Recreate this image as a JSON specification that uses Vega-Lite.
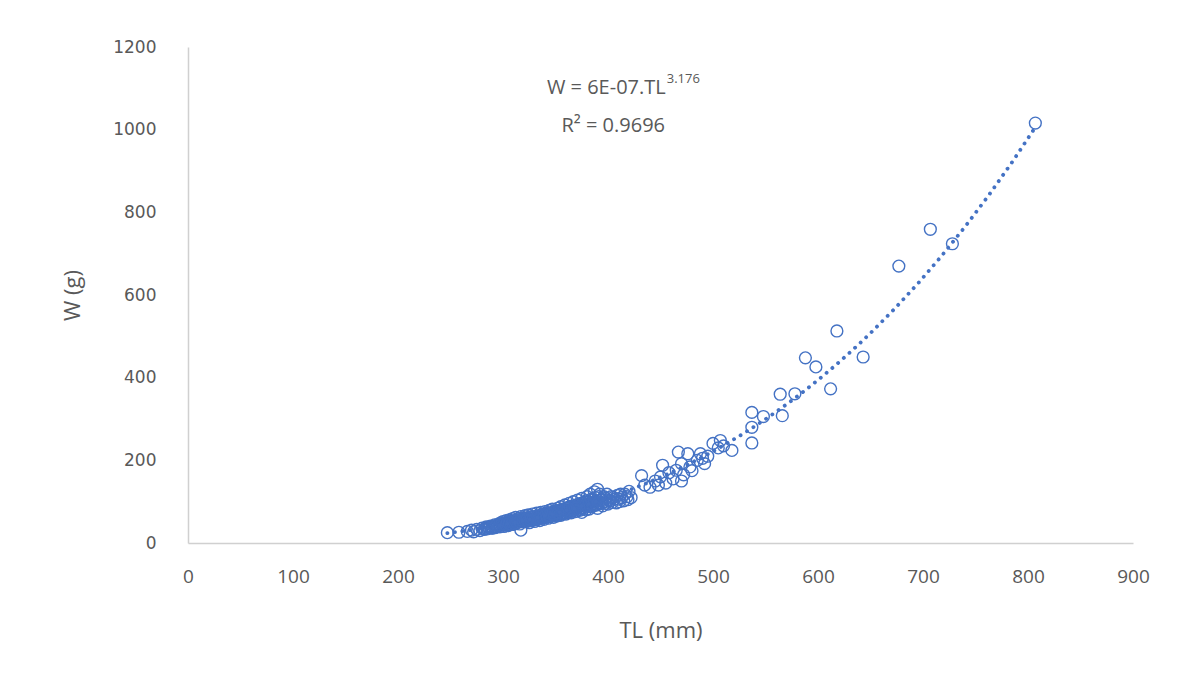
{
  "$schema": "https://vega.github.io/schema/vega-lite/v6.json",
  "autosize": "none",
  "width": 945,
  "height": 496,
  "padding": {"left": 188, "top": 47, "right": 46, "bottom": 130},
  "background": "white",
  "config": {"view": {"stroke": null}},
  "datasets": {
    "fish": [
      {"TL":247,"W":25},{"TL":258,"W":26},{"TL":266,"W":28},{"TL":270,"W":31},{"TL":272,"W":27},{"TL":275,"W":33},{"TL":278,"W":30},{"TL":280,"W":36},{"TL":282,"W":33},{"TL":284,"W":39},
      {"TL":285,"W":34},{"TL":287,"W":37},{"TL":288,"W":41},{"TL":290,"W":36},{"TL":291,"W":40},{"TL":292,"W":44},{"TL":293,"W":38},{"TL":295,"W":42},{"TL":296,"W":46},{"TL":297,"W":39},
      {"TL":298,"W":49},{"TL":299,"W":43},{"TL":300,"W":45},{"TL":300,"W":52},{"TL":301,"W":40},{"TL":302,"W":48},{"TL":303,"W":54},{"TL":304,"W":44},{"TL":305,"W":50},{"TL":305,"W":42},
      {"TL":306,"W":56},{"TL":307,"W":47},{"TL":308,"W":52},{"TL":309,"W":59},{"TL":310,"W":45},{"TL":310,"W":51},{"TL":311,"W":54},{"TL":312,"W":48},{"TL":312,"W":62},{"TL":313,"W":56},
      {"TL":314,"W":50},{"TL":315,"W":53},{"TL":315,"W":59},{"TL":316,"W":46},{"TL":317,"W":64},{"TL":318,"W":55},{"TL":318,"W":51},{"TL":319,"W":60},{"TL":317,"W":31},{"TL":320,"W":57},
      {"TL":321,"W":66},{"TL":322,"W":52},{"TL":322,"W":61},{"TL":323,"W":55},{"TL":324,"W":68},{"TL":325,"W":58},{"TL":325,"W":49},{"TL":326,"W":63},{"TL":327,"W":54},{"TL":328,"W":70},
      {"TL":329,"W":59},{"TL":330,"W":52},{"TL":330,"W":64},{"TL":331,"W":56},{"TL":332,"W":72},{"TL":333,"W":61},{"TL":334,"W":66},{"TL":335,"W":54},{"TL":335,"W":59},{"TL":336,"W":74},
      {"TL":337,"W":64},{"TL":338,"W":68},{"TL":339,"W":57},{"TL":340,"W":62},{"TL":340,"W":76},{"TL":341,"W":66},{"TL":342,"W":70},{"TL":343,"W":60},{"TL":344,"W":79},{"TL":345,"W":64},
      {"TL":345,"W":72},{"TL":346,"W":67},{"TL":347,"W":82},{"TL":348,"W":62},{"TL":349,"W":74},{"TL":350,"W":69},{"TL":350,"W":78},{"TL":351,"W":65},{"TL":352,"W":84},{"TL":353,"W":72},
      {"TL":354,"W":76},{"TL":355,"W":67},{"TL":355,"W":88},{"TL":356,"W":80},{"TL":357,"W":71},{"TL":358,"W":74},{"TL":359,"W":92},{"TL":360,"W":78},{"TL":360,"W":70},{"TL":361,"W":84},
      {"TL":362,"W":75},{"TL":363,"W":96},{"TL":364,"W":81},{"TL":365,"W":73},{"TL":365,"W":89},{"TL":366,"W":78},{"TL":367,"W":100},{"TL":368,"W":84},{"TL":369,"W":76},{"TL":370,"W":92},
      {"TL":370,"W":82},{"TL":371,"W":104},{"TL":372,"W":80},{"TL":373,"W":88},{"TL":374,"W":96},{"TL":375,"W":74},{"TL":375,"W":108},{"TL":376,"W":86},{"TL":377,"W":92},{"TL":378,"W":99},
      {"TL":379,"W":80},{"TL":380,"W":112},{"TL":380,"W":89},{"TL":381,"W":92},{"TL":382,"W":82},{"TL":383,"W":118},{"TL":384,"W":98},{"TL":385,"W":88},{"TL":386,"W":105},{"TL":387,"W":124},
      {"TL":388,"W":92},{"TL":389,"W":100},{"TL":390,"W":130},{"TL":390,"W":84},{"TL":391,"W":112},{"TL":392,"W":95},{"TL":394,"W":105},{"TL":395,"W":90},{"TL":397,"W":100},{"TL":398,"W":108},
      {"TL":400,"W":94},{"TL":402,"W":102},{"TL":405,"W":110},{"TL":408,"W":97},{"TL":410,"W":106},{"TL":412,"W":118},{"TL":415,"W":102},{"TL":418,"W":112},{"TL":420,"W":125},{"TL":422,"W":110},
      {"TL":283,"W":34},{"TL":286,"W":38},{"TL":289,"W":36},{"TL":292,"W":37},{"TL":294,"W":43},{"TL":297,"W":44},{"TL":299,"W":47},{"TL":301,"W":46},{"TL":303,"W":43},{"TL":304,"W":51},
      {"TL":306,"W":47},{"TL":308,"W":45},{"TL":309,"W":50},{"TL":311,"W":47},{"TL":313,"W":49},{"TL":314,"W":55},{"TL":316,"W":52},{"TL":317,"W":56},{"TL":319,"W":53},{"TL":321,"W":55},
      {"TL":323,"W":59},{"TL":324,"W":53},{"TL":326,"W":56},{"TL":327,"W":61},{"TL":329,"W":63},{"TL":331,"W":60},{"TL":332,"W":58},{"TL":333,"W":65},{"TL":334,"W":58},{"TL":336,"W":62},
      {"TL":337,"W":68},{"TL":338,"W":60},{"TL":339,"W":70},{"TL":341,"W":69},{"TL":342,"W":63},{"TL":343,"W":73},{"TL":344,"W":66},{"TL":346,"W":71},{"TL":347,"W":69},{"TL":348,"W":76},
      {"TL":349,"W":66},{"TL":351,"W":73},{"TL":352,"W":70},{"TL":353,"W":79},{"TL":354,"W":68},{"TL":356,"W":73},{"TL":357,"W":82},{"TL":358,"W":78},{"TL":359,"W":72},{"TL":361,"W":77},
      {"TL":362,"W":86},{"TL":363,"W":74},{"TL":364,"W":88},{"TL":366,"W":82},{"TL":367,"W":79},{"TL":368,"W":90},{"TL":369,"W":84},{"TL":371,"W":86},{"TL":372,"W":93},{"TL":373,"W":79},
      {"TL":374,"W":85},{"TL":376,"W":96},{"TL":377,"W":83},{"TL":378,"W":90},{"TL":379,"W":102},{"TL":381,"W":100},{"TL":382,"W":96},{"TL":383,"W":88},{"TL":384,"W":106},{"TL":385,"W":95},
      {"TL":386,"W":92},{"TL":387,"W":100},{"TL":388,"W":110},{"TL":389,"W":92},{"TL":391,"W":98},{"TL":392,"W":118},{"TL":393,"W":104},{"TL":394,"W":96},{"TL":396,"W":112},{"TL":398,"W":96},
      {"TL":399,"W":118},{"TL":401,"W":104},{"TL":403,"W":112},{"TL":404,"W":98},{"TL":406,"W":106},{"TL":409,"W":115},{"TL":411,"W":100},{"TL":413,"W":110},{"TL":416,"W":118},{"TL":419,"W":105},
      {"TL":432,"W":163},{"TL":435,"W":140},{"TL":440,"W":135},{"TL":445,"W":150},{"TL":448,"W":140},{"TL":450,"W":160},{"TL":452,"W":188},{"TL":455,"W":145},{"TL":458,"W":170},{"TL":462,"W":155},
      {"TL":465,"W":176},{"TL":467,"W":220},{"TL":470,"W":192},{"TL":470,"W":150},{"TL":472,"W":165},{"TL":476,"W":216},{"TL":478,"W":184},{"TL":480,"W":175},{"TL":485,"W":200},{"TL":488,"W":216},
      {"TL":490,"W":205},{"TL":492,"W":192},{"TL":495,"W":210},{"TL":500,"W":241},{"TL":505,"W":230},{"TL":507,"W":248},{"TL":510,"W":235},{"TL":518,"W":224},{"TL":537,"W":242},{"TL":537,"W":280},
      {"TL":537,"W":316},{"TL":548,"W":306},{"TL":566,"W":308},{"TL":564,"W":360},{"TL":578,"W":361},{"TL":588,"W":448},{"TL":598,"W":426},{"TL":612,"W":373},{"TL":618,"W":513},{"TL":643,"W":450},
      {"TL":677,"W":670},{"TL":707,"W":759},{"TL":728,"W":724},{"TL":807,"W":1016}
    ],
    "notes": [
      {"TL": 455, "W": 1101, "label": "W = 6E-07.TL", "kind": "main"},
      {"TL": 455, "W": 1122, "label": "3.176", "kind": "sup"},
      {"TL": 405, "W": 1010, "label": "R² = 0.9696", "kind": "r2"}
    ]
  },
  "layer": [
    {
      "data": {"name": "fish"},
      "mark": {"type": "point", "shape": "circle", "filled": false, "stroke": "#4472C4", "strokeWidth": 1.4, "size": 140, "opacity": 1},
      "encoding": {
        "x": {"field": "TL", "type": "quantitative", "scale": {"domain": [0, 900], "nice": false},
          "axis": {"title": "TL (mm)", "values": [0,100,200,300,400,500,600,700,800,900], "format": "d", "grid": false, "ticks": false, "labelFlush": false,
            "domainColor": "#D0D0D0", "domainWidth": 1.5, "labelColor": "#595959", "labelFont": "Open Sans", "labelFontSize": 19, "labelPadding": 24,
            "titleColor": "#595959", "titleFontSize": 22, "titleFontWeight": "normal", "titleFont": "Open Sans", "titleY": 87, "titleBaseline": "middle"}},
        "y": {"field": "W", "type": "quantitative", "scale": {"domain": [0, 1200], "nice": false},
          "axis": {"title": "W (g)", "values": [0,200,400,600,800,1000,1200], "format": "d", "grid": false, "ticks": false, "labelFlush": false,
            "domainColor": "#D0D0D0", "domainWidth": 1.5, "labelColor": "#595959", "labelFont": "DejaVu Sans", "labelFontSize": 17, "labelPadding": 32,
            "titleColor": "#595959", "titleFontSize": 22, "titleFontWeight": "normal", "titleFont": "Open Sans", "titleX": -116, "titleY": 248, "titleBaseline": "middle"}}
      }
    },
    {
      "data": {"name": "fish"},
      "transform": [{"regression": "W", "on": "TL", "method": "pow", "extent": [247, 807]}],
      "mark": {"type": "line", "color": "#4472C4", "strokeWidth": 3.8, "strokeDash": [0.1, 7.5], "strokeCap": "round"},
      "encoding": {
        "x": {"field": "TL", "type": "quantitative"},
        "y": {"field": "W", "type": "quantitative"}
      }
    },
    {
      "data": {"name": "notes"},
      "transform": [{"filter": "datum.kind === 'main'"}],
      "mark": {"type": "text", "align": "right", "baseline": "middle", "font": "Open Sans", "fontSize": 20, "color": "#595959"},
      "encoding": {"x": {"field": "TL", "type": "quantitative"}, "y": {"field": "W", "type": "quantitative"}, "text": {"field": "label"}}
    },
    {
      "data": {"name": "notes"},
      "transform": [{"filter": "datum.kind === 'sup'"}],
      "mark": {"type": "text", "align": "left", "baseline": "middle", "font": "Open Sans", "fontSize": 13, "color": "#595959", "dx": 1},
      "encoding": {"x": {"field": "TL", "type": "quantitative"}, "y": {"field": "W", "type": "quantitative"}, "text": {"field": "label"}}
    },
    {
      "data": {"name": "notes"},
      "transform": [{"filter": "datum.kind === 'r2'"}],
      "mark": {"type": "text", "align": "center", "baseline": "middle", "font": "Open Sans", "fontSize": 20, "color": "#595959"},
      "encoding": {"x": {"field": "TL", "type": "quantitative"}, "y": {"field": "W", "type": "quantitative"}, "text": {"field": "label"}}
    }
  ]
}
